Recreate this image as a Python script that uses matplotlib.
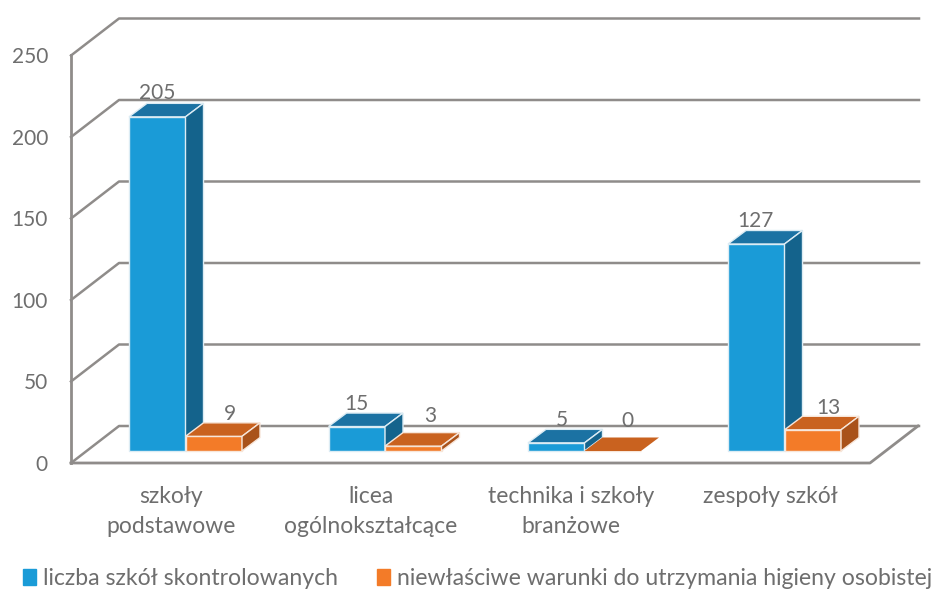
import matplotlib
matplotlib.use("Agg")
from matplotlib import pyplot as plt
from matplotlib.patches import Patch, Polygon

plt.rcParams['font.family'] = ['Lato', 'DejaVu Sans']

categories = ["szkoły\npodstawowe", "licea\nogólnokształcące", "technika i szkoły\nbranżowe", "zespoły szkół"]
skontrolowane = [205, 15, 5, 127]
niewlasciwe = [9, 3, 0, 13]
y_ticks = [0, 50, 100, 150, 200, 250]
legend_labels = ["liczba szkół skontrolowanych", "niewłaściwe warunki do utrzymania higieny osobistej"]

W, H = 939, 589
PX = 1.63  # pixels per unit of value
BASE = 451
GREY = "#8f8c8a"
TEXT = "#6e6e6e"
EDGE = "#dcecf4"

fig = plt.figure(figsize=(W / 100, H / 100), dpi=100)
ax = fig.add_axes([0, 0, 1, 1])
# x is pixels, y is the value, bars stand at value 0
ax.set_xlim(0, W)
ax.set_ylim((BASE - H) / PX, BASE / PX)
ax.axis("off")


def py(p):
    return (BASE - p) / PX


depth_x = 18
depth_y = 13.5 / PX
front0 = py(463)
back0 = py(426)

# walls and floor
for v in y_ticks:
    ax.plot([71, 119, 919], [front0 + v, back0 + v, back0 + v], color=GREY, lw=1.8, zorder=1)
    ax.text(48, front0 + v - 1.2, str(v), ha="right", va="center", fontsize=15, color=TEXT)
ax.plot([71, 71], [front0, front0 + 250], color=GREY, lw=2, zorder=1)
ax.plot([71, 870, 918], [front0, front0, back0], color=GREY, lw=2, zorder=1)


def bar3d(x, v, w, front, top, side, edge):
    ax.bar(x, v, width=w, align="edge", color=front, edgecolor=edge, lw=1, zorder=3)
    ax.add_patch(Polygon([(x, v), (x + w, v), (x + w + depth_x, v + depth_y), (x + depth_x, v + depth_y)],
                         facecolor=top, edgecolor=edge if v > 0 else "none", lw=1, zorder=3))
    if v > 0:
        ax.add_patch(Polygon([(x + w, 0), (x + w + depth_x, depth_y), (x + w + depth_x, v + depth_y), (x + w, v)],
                             facecolor=side, edgecolor=edge, lw=1, zorder=3))


bar_w = 56.5
starts = [129, 328.5, 528, 728]
for x0, a, b in zip(starts, skontrolowane, niewlasciwe):
    bar3d(x0, a, bar_w, "#1a9bd7", "#1b72a3", "#14638c", EDGE)
    bar3d(x0 + bar_w, b, bar_w, "#f37b28", "#c9621f", "#a9521a", "#f7e6da")

# data labels, offsets in pixels from the bar
blue_dx = [0, 0, 6, -1]
blue_up = [24, 23, 23, 23]
orange_dx = [16, 17, 15, 16]
orange_up = [22, 30, 30, 22]
for i, x0 in enumerate(starts):
    ax.text(x0 + bar_w / 2 + blue_dx[i], skontrolowane[i] + blue_up[i] / PX, str(skontrolowane[i]),
            ha="center", va="center", fontsize=15, color=TEXT, zorder=5)
    ax.text(x0 + bar_w * 1.5 + orange_dx[i], niewlasciwe[i] + orange_up[i] / PX, str(niewlasciwe[i]),
            ha="center", va="center", fontsize=15, color=TEXT, zorder=5)

# category labels
label_x = [171, 371, 571, 770]
for x, lab in zip(label_x, categories):
    ax.text(x, py(486), lab, ha="center", va="top", fontsize=16.5, color=TEXT, linespacing=1.55)

handles = [Patch(color="#1a9bd7"), Patch(color="#f37b28")]
fig.legend(handles, legend_labels, ncols=2, loc="lower left", bbox_to_anchor=(7 / W, -16 / H), frameon=False,
           fontsize=16.6, labelcolor=TEXT, handlelength=0.55, handleheight=0.7, handletextpad=0.3, columnspacing=1.7,
           borderpad=0.2)

fig.savefig("out.png", dpi=100, facecolor="white")
